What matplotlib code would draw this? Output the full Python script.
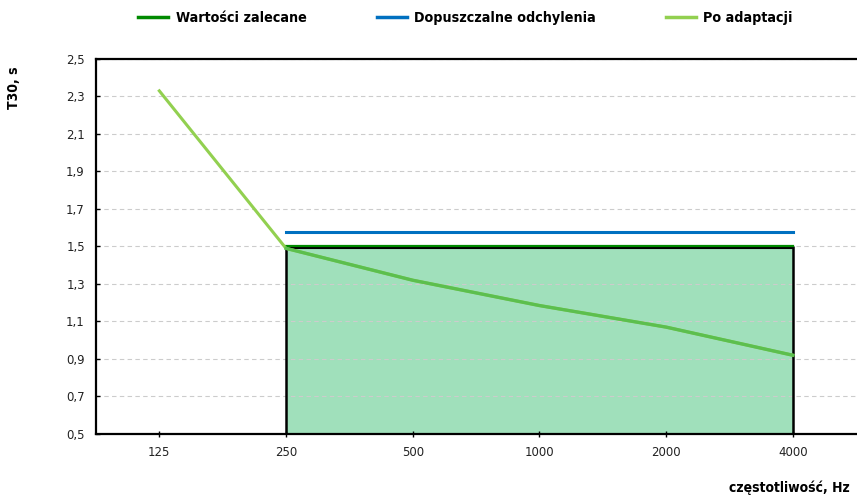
import numpy as np
import matplotlib
matplotlib.use("Agg")
import matplotlib.pyplot as plt
from matplotlib.lines import Line2D

freqs = ["125", "250", "500", "1000", "2000", "4000"]
zalecane = [np.nan, 1.5, 1.5, 1.5, 1.5, 1.5]
odchylenia = [np.nan, 1.575, 1.575, 1.575, 1.575, 1.575]
po_adaptacji = [2.33, 1.49, 1.32, 1.185, 1.07, 0.92]
y_ticks = [0.5, 0.7, 0.9, 1.1, 1.3, 1.5, 1.7, 1.9, 2.1, 2.3, 2.5]

label_font = ["DejaVu Sans"]
tick_font = ["DejaVu Sans"]

fig = plt.figure(figsize=(8.57, 4.99), dpi=100)
ax = fig.add_axes([0.112, 0.1303, 0.887, 0.7515])

x = np.arange(len(freqs))

# green area under the recommended value
ax.fill_between(x, 0.5, zalecane, color="#a0e0bb", zorder=1, lw=0)
ax.plot(x[1:], [0.5] * 5, color="black", lw=1.8, zorder=2)
ax.vlines([x[1], x[-1]], 0.5, 1.5, color="black", lw=1.8, zorder=2)
ax.plot(x, np.array(zalecane) - 0.006, color="black", lw=1.5, zorder=2)
ax.plot(x, np.array(zalecane) + 0.004, color="#008a00", lw=1.6, zorder=3)

ax.plot(x, odchylenia, color="#0070c0", lw=2.2, zorder=3)
ax.plot(x, po_adaptacji, color="#92d050", lw=2.2, zorder=3)
ax.plot(x[1:], po_adaptacji[1:], color="#5cbf4e", lw=2.4, zorder=3)

ax.set_xlim(-0.5, 5.5)
ax.set_ylim(0.5, 2.5)
ax.set_yticks(y_ticks)
ax.set_yticklabels([f"{v:.1f}".replace(".", ",") for v in y_ticks])
ax.set_xticks(x)
ax.set_xticklabels(freqs)

ax.set_axisbelow("line")
ax.grid(axis="y", color="#cccccc", ls=(0, (4, 3)), lw=0.8)

for s in ["left", "top", "bottom"]:
    ax.spines[s].set_linewidth(1.6)
    ax.spines[s].set_color("black")
ax.spines["right"].set_visible(False)

ax.tick_params(axis="x", direction="inout", length=5, width=1, pad=6,
               labelsize=8.5)
ax.tick_params(axis="y", direction="in", length=3, width=1, pad=8,
               labelsize=8.5)
for lab in ax.get_xticklabels() + ax.get_yticklabels():
    lab.set_family(tick_font)
    lab.set_color("#222222")

fig.text(0.016, 0.825, "T30, s", rotation=90, ha="center", va="center",
         fontsize=10, fontweight="bold", family=label_font,
         fontstretch="condensed")
fig.text(0.992, 0.022, "częstotliwość, Hz", ha="right", va="center",
         fontsize=10, fontweight="bold", family=label_font,
         fontstretch="condensed")

handles = [
    Line2D([], [], color="#008a00", lw=2.5),
    Line2D([], [], color="#0070c0", lw=2.5),
    Line2D([], [], color="#92d050", lw=2.5),
]
labels = ["Wartości zalecane", "Dopuszczalne odchylenia", "Po adaptacji"]
fig.legend(handles, labels, loc="center", bbox_to_anchor=(0.543, 0.963),
           ncol=3, frameon=False, handlelength=2.1, handletextpad=0.5,
           columnspacing=4.9,
           prop={"family": label_font, "weight": "bold", "size": 10.3,
                 "stretch": "condensed"})

fig.savefig("out.png", dpi=100)
